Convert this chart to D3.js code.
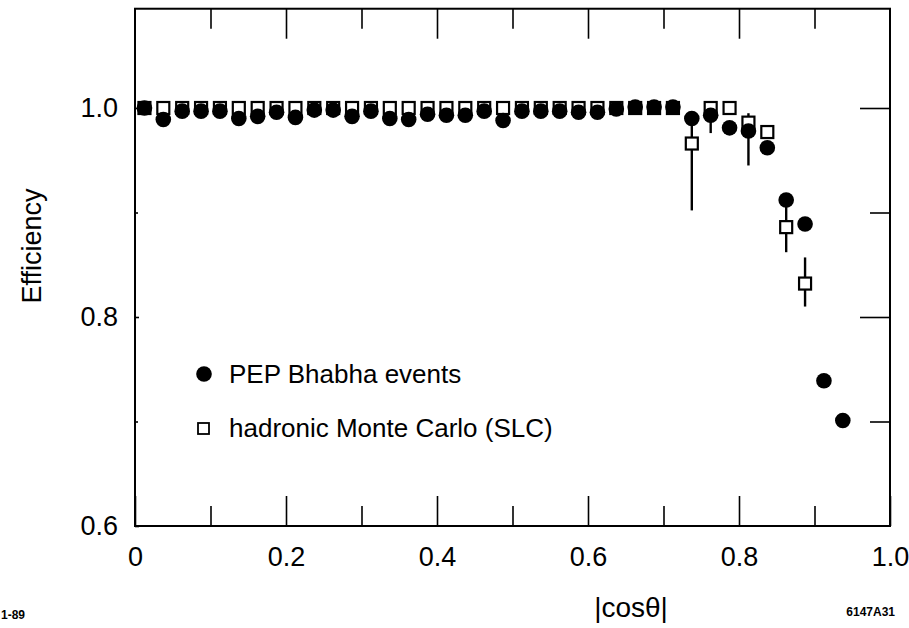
<!DOCTYPE html>
<html>
<head>
<meta charset="utf-8">
<script src="https://cdn.jsdelivr.net/npm/d3@7"></script>
<style>
  html, body { margin: 0; padding: 0; background: #fff; }
  svg { display: block; }
  text { font-family: "Liberation Sans", Arial, Helvetica, sans-serif; fill: #000; }
</style>
</head>
<body>
<svg id="chart" width="909" height="628"></svg>
<script>
// |cos theta| bin centres
const cosTheta = [0.0125, 0.0375, 0.0625, 0.0875, 0.1125, 0.1375, 0.1625, 0.1875, 0.2125, 0.2375,
                  0.2625, 0.2875, 0.3125, 0.3375, 0.3625, 0.3875, 0.4125, 0.4375, 0.4625, 0.4875,
                  0.5125, 0.5375, 0.5625, 0.5875, 0.6125, 0.6375, 0.6625, 0.6875, 0.7125, 0.7375,
                  0.7625, 0.7875, 0.8125, 0.8375, 0.8625, 0.8875, 0.9125, 0.9375];
// PEP Bhabha events (filled circles)
const bhabhaEff = [1.000, 0.989, 0.997, 0.997, 0.997, 0.990, 0.992, 0.996, 0.991, 0.998,
                   0.998, 0.992, 0.997, 0.990, 0.989, 0.994, 0.993, 0.993, 0.997, 0.988,
                   0.997, 0.997, 0.997, 0.996, 0.996, 0.999, 1.001, 1.001, 1.001, 0.990,
                   0.993, 0.981, 0.978, 0.962, 0.912, 0.889, 0.739, 0.701];
// hadronic Monte Carlo (SLC) (open squares), first 36 bins
const mcEff = [1.000, 1.000, 1.000, 1.000, 1.000, 1.000, 1.000, 1.000, 1.000, 1.000,
               1.000, 1.000, 1.000, 1.000, 1.000, 1.000, 1.000, 1.000, 1.000, 1.000,
               1.000, 1.000, 1.000, 1.000, 1.000, 1.000, 1.000, 1.000, 1.000, 0.966,
               1.000, 1.000, 0.986, 0.977, 0.886, 0.832];
// MC error bar bounds (null = no visible bar)
const mcErrLow  = [null, null, null, null, null, null, null, null, null, null,
                   null, null, null, null, null, null, null, null, null, null,
                   null, null, null, null, null, null, null, null, null, 0.902,
                   0.976, null, 0.945, null, 0.862, 0.810];
const mcErrHigh = [null, null, null, null, null, null, null, null, null, null,
                   null, null, null, null, null, null, null, null, null, null,
                   null, null, null, null, null, null, null, null, null, 0.995,
                   1.000, null, 0.995, null, 0.910, 0.857];

const xMajorTicks = [0, 0.2, 0.4, 0.6, 0.8, 1.0];
const xMinorTicks = [0.1, 0.3, 0.5, 0.7, 0.9];
const yMajorTicks = [0.6, 0.8, 1.0];
const yMinorTicks = [0.7, 0.9];
const xTickLabels = ["0", "0.2", "0.4", "0.6", "0.8", "1.0"];
const yTickLabels = ["0.6", "0.8", "1.0"];
const legendLabels = ["PEP Bhabha events", "hadronic Monte Carlo (SLC)"];

const svg = d3.select("#chart");
const x = d3.scaleLinear().domain([0, 1]).range([135, 890]);
const y = d3.scaleLinear().domain([0.6, 1.0]).range([526, 108]);
const yTop = 1.095;

const frameW = 2;

// Frame
svg.append("rect")
  .attr("x", x(0)).attr("y", y(yTop))
  .attr("width", x(1) - x(0)).attr("height", y(0.6) - y(yTop))
  .attr("fill", "none").attr("stroke", "#000").attr("stroke-width", frameW);

function styleAxis(g) {
  g.select(".domain").remove();
  g.selectAll(".tick line").attr("stroke", "#000").attr("stroke-width", 1.6);
}

// Bottom axis (major ticks + labels)
svg.append("g").attr("transform", `translate(0,${y(0.6)})`)
  .call(d3.axisBottom(x).tickValues(xMajorTicks).tickSize(-30).tickPadding(21)
        .tickFormat((d, i) => xTickLabels[i]))
  .call(styleAxis)
  .call(g => g.selectAll("text").attr("font-size", 27).style("font-family", "'Liberation Sans', Arial, sans-serif"));
svg.append("g").attr("transform", `translate(0,${y(0.6)})`)
  .call(d3.axisBottom(x).tickValues(xMinorTicks).tickSize(-20).tickFormat(""))
  .call(styleAxis);

// Top axis
svg.append("g").attr("transform", `translate(0,${y(yTop)})`)
  .call(d3.axisTop(x).tickValues(xMajorTicks.slice(1, -1)).tickSize(-30).tickFormat(""))
  .call(styleAxis);
svg.append("g").attr("transform", `translate(0,${y(yTop)})`)
  .call(d3.axisTop(x).tickValues(xMinorTicks).tickSize(-20).tickFormat(""))
  .call(styleAxis);

// Left axis
svg.append("g").attr("transform", `translate(${x(0)},0)`)
  .call(d3.axisLeft(y).tickValues(yMajorTicks).tickSize(-4).tickPadding(17)
        .tickFormat((d, i) => yTickLabels[i]))
  .call(styleAxis)
  .call(g => g.selectAll("text").attr("font-size", 27).style("font-family", "'Liberation Sans', Arial, sans-serif"));
svg.append("g").attr("transform", `translate(${x(0)},0)`)
  .call(d3.axisLeft(y).tickValues(yMinorTicks).tickSize(-3).tickFormat(""))
  .call(styleAxis);

// Right axis
svg.append("g").attr("transform", `translate(${x(1)},0)`)
  .call(d3.axisRight(y).tickValues([0.8, 1.0]).tickSize(-30).tickFormat(""))
  .call(styleAxis);
svg.append("g").attr("transform", `translate(${x(1)},0)`)
  .call(d3.axisRight(y).tickValues(yMinorTicks).tickSize(-20).tickFormat(""))
  .call(styleAxis);

// Data
const mcData = mcEff.map((v, i) => ({ x: cosTheta[i], y: v, lo: mcErrLow[i], hi: mcErrHigh[i] }));
const bhData = bhabhaEff.map((v, i) => ({ x: cosTheta[i], y: v }));

const plot = svg.append("g");
// error bars
plot.selectAll("line.err").data(mcData.filter(d => d.lo !== null)).join("line")
  .attr("class", "err")
  .attr("x1", d => x(d.x)).attr("x2", d => x(d.x))
  .attr("y1", d => y(d.hi)).attr("y2", d => y(d.lo))
  .attr("stroke", "#000").attr("stroke-width", 2.4);

const sq = 12;
plot.selectAll("rect.mc").data(mcData).join("rect")
  .attr("class", "mc")
  .attr("x", d => x(d.x) - sq / 2).attr("y", d => y(d.y) - sq / 2)
  .attr("width", sq).attr("height", sq)
  .attr("fill", "#fff").attr("stroke", "#000").attr("stroke-width", 2.2);

plot.selectAll("circle.bh").data(bhData).join("circle")
  .attr("class", "bh")
  .attr("cx", d => x(d.x)).attr("cy", d => y(d.y))
  .attr("r", 7.8).attr("fill", "#000");

// Legend
svg.append("circle").attr("cx", 204).attr("cy", 374).attr("r", 7.8).attr("fill", "#000");
svg.append("text").attr("x", 229).attr("y", 383).attr("font-size", 26).text(legendLabels[0]);
svg.append("rect").attr("x", 198).attr("y", 423).attr("width", 11).attr("height", 11)
  .attr("fill", "#fff").attr("stroke", "#000").attr("stroke-width", 1.8);
svg.append("text").attr("x", 229).attr("y", 437).attr("font-size", 26).text(legendLabels[1]);

// Axis titles
svg.append("text")
  .attr("transform", "translate(41,246) rotate(-90)")
  .attr("text-anchor", "middle").attr("font-size", 27).text("Efficiency");
svg.append("text")
  .attr("x", 631).attr("y", 617).attr("text-anchor", "middle").attr("font-size", 28).text("|cosθ|");

// Figure codes
svg.append("text").attr("x", 1).attr("y", 619).attr("font-size", 12).attr("font-weight", "bold").text("1-89");
svg.append("text").attr("x", 895).attr("y", 616).attr("text-anchor", "end")
  .attr("font-size", 12).attr("font-weight", "bold").text("6147A31");
</script>
</body>
</html>
